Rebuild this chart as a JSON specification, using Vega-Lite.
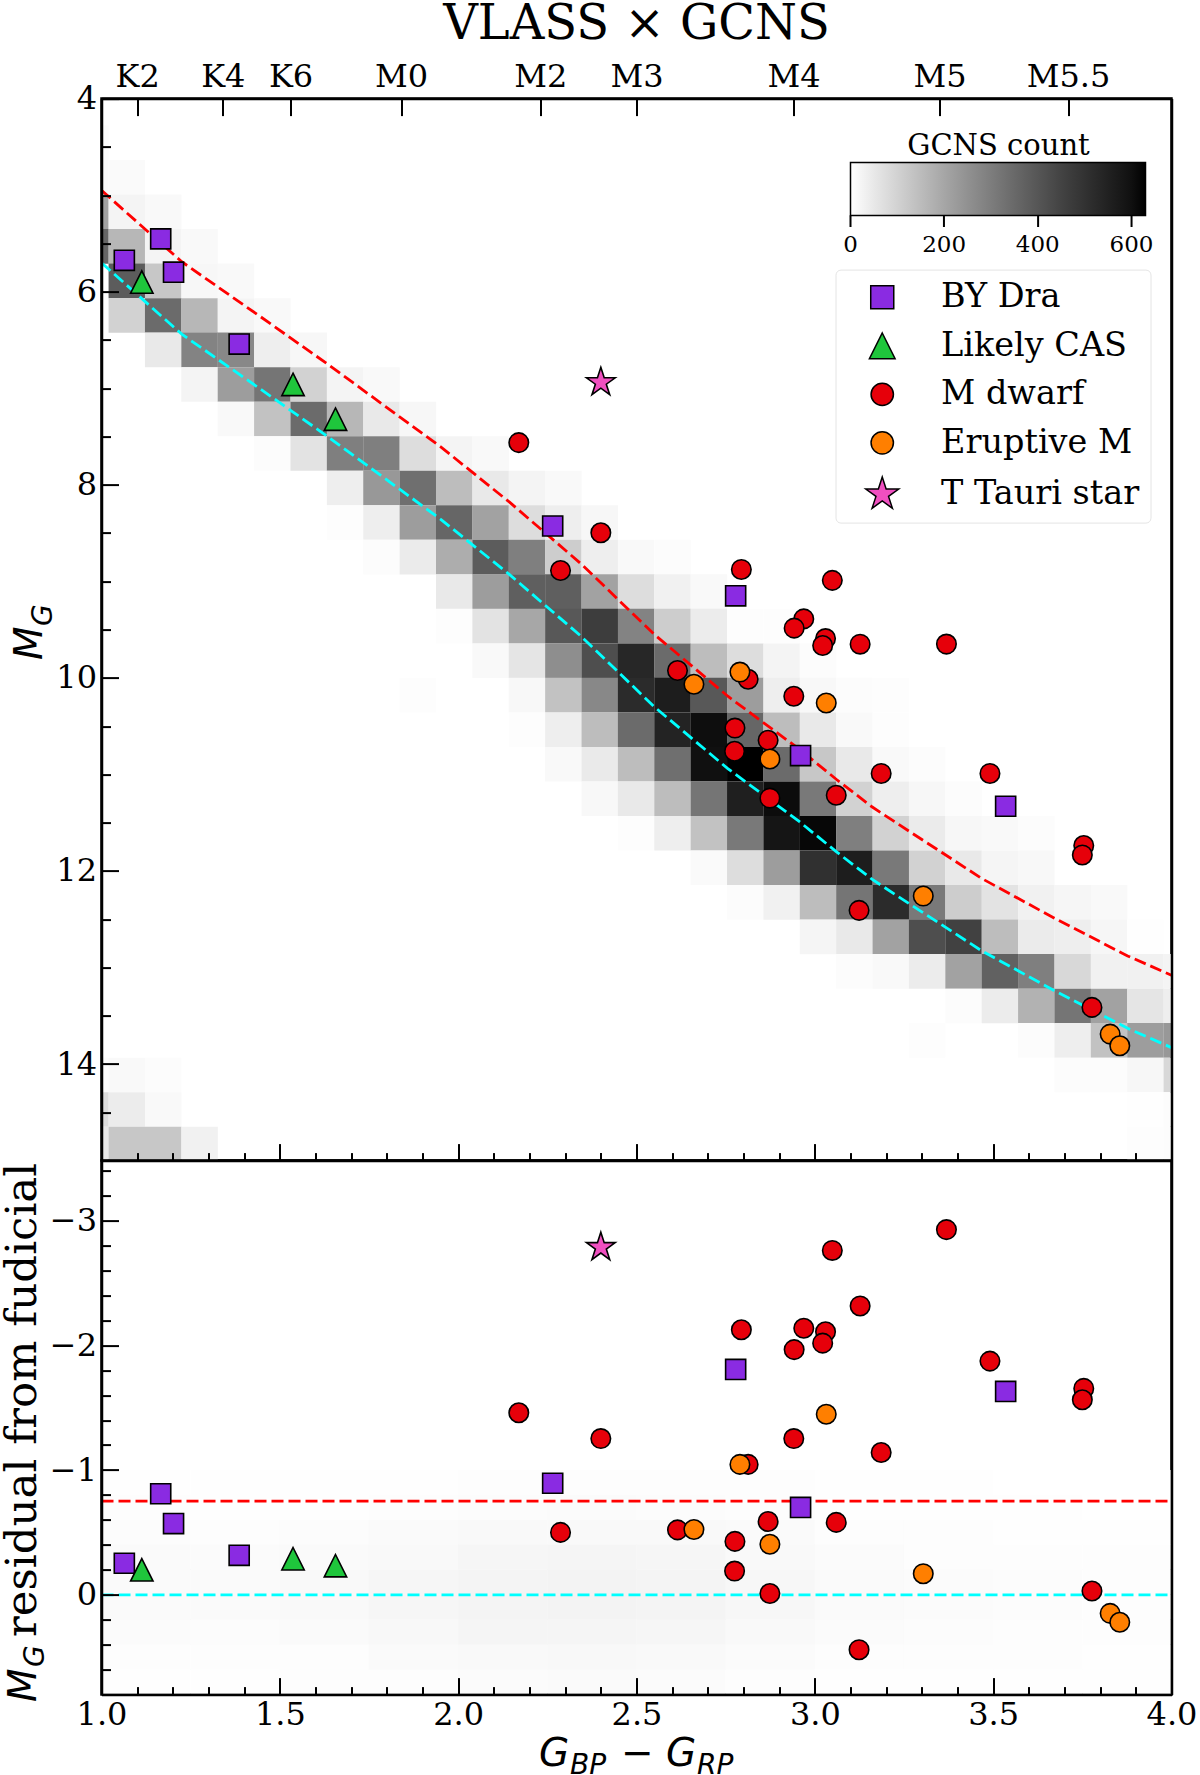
{
"$schema":"https://vega.github.io/schema/vega-lite/v6.json",
"background":"white",
"padding":{"left":-1.5,"top":-0.4,"right":0,"bottom":0},
"spacing":0,
"bounds":"flush",
"datasets":{
"heat":[
{"x":0.969,"y":4.458,"n":7},
{"x":0.969,"y":4.815,"n":12},{"x":1.071,"y":4.815,"n":10},
{"x":0.969,"y":5.173,"n":210},{"x":1.071,"y":5.173,"n":25},{"x":1.173,"y":5.173,"n":12},
{"x":0.969,"y":5.531,"n":358},{"x":1.071,"y":5.531,"n":161},{"x":1.173,"y":5.531,"n":25},{"x":1.275,"y":5.531,"n":12},
{"x":1.071,"y":5.888,"n":383},{"x":1.173,"y":5.888,"n":124},{"x":1.275,"y":5.888,"n":17},{"x":1.377,"y":5.888,"n":12},
{"x":1.071,"y":6.246,"n":99},{"x":1.173,"y":6.246,"n":346},{"x":1.275,"y":6.246,"n":161},{"x":1.377,"y":6.246,"n":25},{"x":1.479,"y":6.246,"n":12},
{"x":1.173,"y":6.603,"n":49},{"x":1.275,"y":6.603,"n":284},{"x":1.377,"y":6.603,"n":272},{"x":1.479,"y":6.603,"n":37},{"x":1.581,"y":6.603,"n":17},
{"x":1.275,"y":6.961,"n":25},{"x":1.377,"y":6.961,"n":222},{"x":1.479,"y":6.961,"n":321},{"x":1.581,"y":6.961,"n":99},{"x":1.683,"y":6.961,"n":25},{"x":1.785,"y":6.961,"n":12},
{"x":1.377,"y":7.319,"n":12},{"x":1.479,"y":7.319,"n":136},{"x":1.581,"y":7.319,"n":346},{"x":1.683,"y":7.319,"n":161},{"x":1.785,"y":7.319,"n":49},{"x":1.887,"y":7.319,"n":17},
{"x":1.479,"y":7.676,"n":7},{"x":1.581,"y":7.676,"n":62},{"x":1.683,"y":7.676,"n":296},{"x":1.785,"y":7.676,"n":296},{"x":1.887,"y":7.676,"n":74},{"x":1.989,"y":7.676,"n":25},{"x":2.091,"y":7.676,"n":12},
{"x":1.683,"y":8.034,"n":37},{"x":1.785,"y":8.034,"n":235},{"x":1.887,"y":8.034,"n":334},{"x":1.989,"y":8.034,"n":148},{"x":2.091,"y":8.034,"n":49},{"x":2.193,"y":8.034,"n":25},{"x":2.295,"y":8.034,"n":12},
{"x":1.683,"y":8.391,"n":5},{"x":1.785,"y":8.391,"n":37},{"x":1.887,"y":8.391,"n":222},{"x":1.989,"y":8.391,"n":358},{"x":2.091,"y":8.391,"n":210},{"x":2.193,"y":8.391,"n":74},{"x":2.295,"y":8.391,"n":37},{"x":2.397,"y":8.391,"n":17},
{"x":1.785,"y":8.749,"n":7},{"x":1.887,"y":8.749,"n":44},{"x":1.989,"y":8.749,"n":185},{"x":2.091,"y":8.749,"n":383},{"x":2.193,"y":8.749,"n":296},{"x":2.295,"y":8.749,"n":111},{"x":2.397,"y":8.749,"n":37},{"x":2.499,"y":8.749,"n":12},{"x":2.601,"y":8.749,"n":7},
{"x":1.989,"y":9.107,"n":49},{"x":2.091,"y":9.107,"n":222},{"x":2.193,"y":9.107,"n":375},{"x":2.295,"y":9.107,"n":375},{"x":2.397,"y":9.107,"n":210},{"x":2.499,"y":9.107,"n":74},{"x":2.601,"y":9.107,"n":30},{"x":2.703,"y":9.107,"n":12},
{"x":1.989,"y":9.464,"n":5},{"x":2.091,"y":9.464,"n":62},{"x":2.193,"y":9.464,"n":198},{"x":2.295,"y":9.464,"n":395},{"x":2.397,"y":9.464,"n":469},{"x":2.499,"y":9.464,"n":284},{"x":2.601,"y":9.464,"n":111},{"x":2.703,"y":9.464,"n":42},{"x":2.805,"y":9.464,"n":5},{"x":2.907,"y":9.464,"n":5},
{"x":2.091,"y":9.822,"n":12},{"x":2.193,"y":9.822,"n":57},{"x":2.295,"y":9.822,"n":259},{"x":2.397,"y":9.822,"n":420},{"x":2.499,"y":9.822,"n":531},{"x":2.601,"y":9.822,"n":346},{"x":2.703,"y":9.822,"n":148},{"x":2.805,"y":9.822,"n":74},{"x":2.907,"y":9.822,"n":25},{"x":3.009,"y":9.822,"n":7},
{"x":1.887,"y":10.179,"n":5},{"x":2.193,"y":10.179,"n":15},{"x":2.295,"y":10.179,"n":136},{"x":2.397,"y":10.179,"n":272},{"x":2.499,"y":10.179,"n":519},{"x":2.601,"y":10.179,"n":561},{"x":2.703,"y":10.179,"n":395},{"x":2.805,"y":10.179,"n":222},{"x":2.907,"y":10.179,"n":37},{"x":3.009,"y":10.179,"n":15},{"x":3.111,"y":10.179,"n":7},{"x":3.213,"y":10.179,"n":5},
{"x":2.193,"y":10.537,"n":5},{"x":2.295,"y":10.537,"n":37},{"x":2.397,"y":10.537,"n":148},{"x":2.499,"y":10.537,"n":346},{"x":2.601,"y":10.537,"n":544},{"x":2.703,"y":10.537,"n":605},{"x":2.805,"y":10.537,"n":358},{"x":2.907,"y":10.537,"n":148},{"x":3.009,"y":10.537,"n":49},{"x":3.111,"y":10.537,"n":12},{"x":3.213,"y":10.537,"n":5},
{"x":2.295,"y":10.895,"n":12},{"x":2.397,"y":10.895,"n":47},{"x":2.499,"y":10.895,"n":148},{"x":2.601,"y":10.895,"n":334},{"x":2.703,"y":10.895,"n":600},{"x":2.805,"y":10.895,"n":630},{"x":2.907,"y":10.895,"n":346},{"x":3.009,"y":10.895,"n":124},{"x":3.111,"y":10.895,"n":49},{"x":3.213,"y":10.895,"n":12},{"x":3.315,"y":10.895,"n":7},
{"x":2.397,"y":11.252,"n":15},{"x":2.499,"y":11.252,"n":49},{"x":2.601,"y":11.252,"n":148},{"x":2.703,"y":11.252,"n":321},{"x":2.805,"y":11.252,"n":556},{"x":2.907,"y":11.252,"n":610},{"x":3.009,"y":11.252,"n":309},{"x":3.111,"y":11.252,"n":99},{"x":3.213,"y":11.252,"n":37},{"x":3.315,"y":11.252,"n":17},{"x":3.417,"y":11.252,"n":7},
{"x":2.499,"y":11.61,"n":5},{"x":2.601,"y":11.61,"n":37},{"x":2.703,"y":11.61,"n":136},{"x":2.805,"y":11.61,"n":309},{"x":2.907,"y":11.61,"n":586},{"x":3.009,"y":11.61,"n":618},{"x":3.111,"y":11.61,"n":296},{"x":3.213,"y":11.61,"n":99},{"x":3.315,"y":11.61,"n":44},{"x":3.417,"y":11.61,"n":17},{"x":3.519,"y":11.61,"n":12},{"x":3.621,"y":11.61,"n":7},
{"x":2.703,"y":11.967,"n":10},{"x":2.805,"y":11.967,"n":74},{"x":2.907,"y":11.967,"n":222},{"x":3.009,"y":11.967,"n":506},{"x":3.111,"y":11.967,"n":561},{"x":3.213,"y":11.967,"n":309},{"x":3.315,"y":11.967,"n":99},{"x":3.417,"y":11.967,"n":49},{"x":3.519,"y":11.967,"n":22},{"x":3.621,"y":11.967,"n":15},
{"x":2.805,"y":12.325,"n":7},{"x":2.907,"y":12.325,"n":30},{"x":3.009,"y":12.325,"n":148},{"x":3.111,"y":12.325,"n":321},{"x":3.213,"y":12.325,"n":519},{"x":3.315,"y":12.325,"n":309},{"x":3.417,"y":12.325,"n":111},{"x":3.519,"y":12.325,"n":62},{"x":3.621,"y":12.325,"n":30},{"x":3.723,"y":12.325,"n":20},{"x":3.825,"y":12.325,"n":12},
{"x":3.009,"y":12.683,"n":22},{"x":3.111,"y":12.683,"n":49},{"x":3.213,"y":12.683,"n":210},{"x":3.315,"y":12.683,"n":420},{"x":3.417,"y":12.683,"n":457},{"x":3.519,"y":12.683,"n":148},{"x":3.621,"y":12.683,"n":44},{"x":3.723,"y":12.683,"n":37},{"x":3.825,"y":12.683,"n":20},{"x":3.927,"y":12.683,"n":2},
{"x":3.111,"y":13.04,"n":7},{"x":3.213,"y":13.04,"n":12},{"x":3.315,"y":13.04,"n":42},{"x":3.417,"y":13.04,"n":210},{"x":3.519,"y":13.04,"n":371},{"x":3.621,"y":13.04,"n":296},{"x":3.723,"y":13.04,"n":86},{"x":3.825,"y":13.04,"n":30},{"x":3.927,"y":13.04,"n":30},{"x":4.029,"y":13.04,"n":25},
{"x":3.417,"y":13.398,"n":7},{"x":3.519,"y":13.398,"n":42},{"x":3.621,"y":13.398,"n":173},{"x":3.723,"y":13.398,"n":321},{"x":3.825,"y":13.398,"n":210},{"x":3.927,"y":13.398,"n":57},{"x":4.029,"y":13.398,"n":37},
{"x":3.315,"y":13.755,"n":5},{"x":3.621,"y":13.755,"n":7},{"x":3.723,"y":13.755,"n":37},{"x":3.825,"y":13.755,"n":136},{"x":3.927,"y":13.755,"n":222},{"x":4.029,"y":13.755,"n":235},
{"x":0.969,"y":14.113,"n":7},{"x":1.071,"y":14.113,"n":12},{"x":1.173,"y":14.113,"n":7},{"x":3.723,"y":14.113,"n":7},{"x":3.825,"y":14.113,"n":7},{"x":3.927,"y":14.113,"n":17},{"x":4.029,"y":14.113,"n":86},
{"x":0.969,"y":14.471,"n":74},{"x":1.071,"y":14.471,"n":42},{"x":1.173,"y":14.471,"n":12},{"x":3.927,"y":14.471,"n":2},{"x":4.029,"y":14.471,"n":7},
{"x":0.969,"y":14.828,"n":49},{"x":1.071,"y":14.828,"n":124},{"x":1.173,"y":14.828,"n":124},{"x":1.275,"y":14.828,"n":30},{"x":3.927,"y":14.828,"n":5},{"x":4.029,"y":14.828,"n":7}
],
"density":[
{"x":1.125,"y":-0.9,"n":2},{"x":1.375,"y":-0.9,"n":2},{"x":1.625,"y":-0.9,"n":2},{"x":1.875,"y":-0.9,"n":3},{"x":2.125,"y":-0.9,"n":4},{"x":2.375,"y":-0.9,"n":5},{"x":2.625,"y":-0.9,"n":5},{"x":2.875,"y":-0.9,"n":4},{"x":3.125,"y":-0.9,"n":2},{"x":3.375,"y":-0.9,"n":2},{"x":3.625,"y":-0.9,"n":1},{"x":3.875,"y":-0.9,"n":1},
{"x":1.125,"y":-0.7,"n":4},{"x":1.375,"y":-0.7,"n":3},{"x":1.625,"y":-0.7,"n":3},{"x":1.875,"y":-0.7,"n":6},{"x":2.125,"y":-0.7,"n":9},{"x":2.375,"y":-0.7,"n":10},{"x":2.625,"y":-0.7,"n":9},{"x":2.875,"y":-0.7,"n":7},{"x":3.125,"y":-0.7,"n":3},{"x":3.375,"y":-0.7,"n":2},{"x":3.625,"y":-0.7,"n":2},{"x":3.875,"y":-0.7,"n":1},
{"x":1.125,"y":-0.5,"n":8},{"x":1.375,"y":-0.5,"n":7},{"x":1.625,"y":-0.5,"n":8},{"x":1.875,"y":-0.5,"n":12},{"x":2.125,"y":-0.5,"n":15},{"x":2.375,"y":-0.5,"n":18},{"x":2.625,"y":-0.5,"n":17},{"x":2.875,"y":-0.5,"n":12},{"x":3.125,"y":-0.5,"n":7},{"x":3.375,"y":-0.5,"n":4},{"x":3.625,"y":-0.5,"n":3},{"x":3.875,"y":-0.5,"n":2},
{"x":1.125,"y":-0.3,"n":12},{"x":1.375,"y":-0.3,"n":10},{"x":1.625,"y":-0.3,"n":12},{"x":1.875,"y":-0.3,"n":18},{"x":2.125,"y":-0.3,"n":24},{"x":2.375,"y":-0.3,"n":27},{"x":2.625,"y":-0.3,"n":25},{"x":2.875,"y":-0.3,"n":18},{"x":3.125,"y":-0.3,"n":10},{"x":3.375,"y":-0.3,"n":7},{"x":3.625,"y":-0.3,"n":5},{"x":3.875,"y":-0.3,"n":4},
{"x":1.125,"y":-0.1,"n":14},{"x":1.375,"y":-0.1,"n":12},{"x":1.625,"y":-0.1,"n":15},{"x":1.875,"y":-0.1,"n":24},{"x":2.125,"y":-0.1,"n":30},{"x":2.375,"y":-0.1,"n":33},{"x":2.625,"y":-0.1,"n":30},{"x":2.875,"y":-0.1,"n":22},{"x":3.125,"y":-0.1,"n":14},{"x":3.375,"y":-0.1,"n":10},{"x":3.625,"y":-0.1,"n":8},{"x":3.875,"y":-0.1,"n":6},
{"x":1.125,"y":0.1,"n":14},{"x":1.375,"y":0.1,"n":12},{"x":1.625,"y":0.1,"n":15},{"x":1.875,"y":0.1,"n":24},{"x":2.125,"y":0.1,"n":30},{"x":2.375,"y":0.1,"n":33},{"x":2.625,"y":0.1,"n":30},{"x":2.875,"y":0.1,"n":22},{"x":3.125,"y":0.1,"n":14},{"x":3.375,"y":0.1,"n":10},{"x":3.625,"y":0.1,"n":9},{"x":3.875,"y":0.1,"n":7},
{"x":1.125,"y":0.3,"n":10},{"x":1.375,"y":0.3,"n":9},{"x":1.625,"y":0.3,"n":12},{"x":1.875,"y":0.3,"n":20},{"x":2.125,"y":0.3,"n":26},{"x":2.375,"y":0.3,"n":28},{"x":2.625,"y":0.3,"n":25},{"x":2.875,"y":0.3,"n":18},{"x":3.125,"y":0.3,"n":11},{"x":3.375,"y":0.3,"n":8},{"x":3.625,"y":0.3,"n":7},{"x":3.875,"y":0.3,"n":5},
{"x":1.125,"y":0.5,"n":6},{"x":1.375,"y":0.5,"n":5},{"x":1.625,"y":0.5,"n":7},{"x":1.875,"y":0.5,"n":12},{"x":2.125,"y":0.5,"n":17},{"x":2.375,"y":0.5,"n":19},{"x":2.625,"y":0.5,"n":16},{"x":2.875,"y":0.5,"n":11},{"x":3.125,"y":0.5,"n":6},{"x":3.375,"y":0.5,"n":5},{"x":3.625,"y":0.5,"n":4},{"x":3.875,"y":0.5,"n":3},
{"x":1.125,"y":0.7,"n":3},{"x":1.375,"y":0.7,"n":2},{"x":1.625,"y":0.7,"n":4},{"x":1.875,"y":0.7,"n":7},{"x":2.125,"y":0.7,"n":10},{"x":2.375,"y":0.7,"n":12},{"x":2.625,"y":0.7,"n":10},{"x":2.875,"y":0.7,"n":6},{"x":3.125,"y":0.7,"n":3},{"x":3.375,"y":0.7,"n":2},{"x":3.625,"y":0.7,"n":2},{"x":3.875,"y":0.7,"n":2}
],
"fiducial":[
{"x":1.0,"mg":5.70,"upper":4.95},{"x":1.225,"mg":6.44,"upper":5.69},{"x":1.45,"mg":7.02,"upper":6.27},{"x":1.632,"mg":7.495,"upper":6.745},{"x":1.952,"mg":8.36,"upper":7.61},{"x":2.144,"mg":8.93,"upper":8.18},{"x":2.345,"mg":9.57,"upper":8.82},{"x":2.55,"mg":10.30,"upper":9.55},{"x":2.756,"mg":10.94,"upper":10.19},{"x":2.957,"mg":11.49,"upper":10.74},{"x":3.06,"mg":11.80,"upper":11.05},{"x":3.16,"mg":12.085,"upper":11.335},{"x":3.265,"mg":12.34,"upper":11.59},{"x":3.469,"mg":12.83,"upper":12.08},{"x":3.672,"mg":13.24,"upper":12.49},{"x":3.877,"mg":13.63,"upper":12.88},{"x":4.0,"mg":13.83,"upper":13.08}
],
"levels":[{"x":1.0,"zero":0,"limit":-0.75},{"x":4.0,"zero":0,"limit":-0.75}],
"stars":[
{"type":"M dwarf","x":3.369,"mg":9.65,"resid":-2.927},
{"type":"M dwarf","x":3.049,"mg":8.99,"resid":-2.76},
{"type":"M dwarf","x":3.127,"mg":9.651,"resid":-2.315},
{"type":"M dwarf","x":2.794,"mg":8.877,"resid":-2.124},
{"type":"M dwarf","x":2.969,"mg":9.389,"resid":-2.136},
{"type":"M dwarf","x":3.03,"mg":9.593,"resid":-2.108},
{"type":"M dwarf","x":3.022,"mg":9.665,"resid":-2.017},
{"type":"M dwarf","x":2.942,"mg":9.485,"resid":-1.965},
{"type":"M dwarf","x":3.491,"mg":10.99,"resid":-1.873},
{"type":"M dwarf","x":3.754,"mg":11.737,"resid":-1.654},
{"type":"M dwarf","x":3.75,"mg":11.834,"resid":-1.563},
{"type":"M dwarf","x":2.941,"mg":10.19,"resid":-1.252},
{"type":"M dwarf","x":3.186,"mg":10.99,"resid":-1.14},
{"type":"M dwarf","x":2.813,"mg":10.014,"resid":-1.045},
{"type":"M dwarf","x":2.869,"mg":10.646,"resid":-0.587},
{"type":"M dwarf","x":3.06,"mg":11.216,"resid":-0.58},
{"type":"M dwarf","x":2.615,"mg":9.924,"resid":-0.52},
{"type":"M dwarf","x":2.776,"mg":10.52,"resid":-0.428},
{"type":"M dwarf","x":2.775,"mg":10.76,"resid":-0.19},
{"type":"M dwarf","x":2.874,"mg":11.246,"resid":-0.01},
{"type":"M dwarf","x":3.777,"mg":13.413,"resid":-0.03},
{"type":"M dwarf","x":3.124,"mg":12.408,"resid":0.44},
{"type":"M dwarf","x":2.17,"mg":7.563,"resid":-1.459},
{"type":"M dwarf","x":2.287,"mg":8.888,"resid":-0.5},
{"type":"M dwarf","x":2.4,"mg":8.497,"resid":-1.252},
{"type":"Eruptive M","x":2.79,"mg":9.94,"resid":-1.045},
{"type":"Eruptive M","x":3.032,"mg":10.26,"resid":-1.447},
{"type":"Eruptive M","x":2.661,"mg":10.066,"resid":-0.523},
{"type":"Eruptive M","x":2.874,"mg":10.84,"resid":-0.405},
{"type":"Eruptive M","x":3.304,"mg":12.26,"resid":-0.169},
{"type":"Eruptive M","x":3.828,"mg":13.69,"resid":0.149},
{"type":"Eruptive M","x":3.855,"mg":13.81,"resid":0.22},
{"type":"BY Dra","x":2.778,"mg":9.15,"resid":-1.806},
{"type":"BY Dra","x":3.535,"mg":11.33,"resid":-1.63},
{"type":"BY Dra","x":2.96,"mg":10.805,"resid":-0.7},
{"type":"BY Dra","x":1.064,"mg":5.675,"resid":-0.253},
{"type":"BY Dra","x":1.166,"mg":5.453,"resid":-0.81},
{"type":"BY Dra","x":1.202,"mg":5.798,"resid":-0.571},
{"type":"BY Dra","x":1.386,"mg":6.543,"resid":-0.316},
{"type":"BY Dra","x":2.265,"mg":8.427,"resid":-0.894},
{"type":"Likely CAS","x":1.113,"mg":5.9,"resid":-0.2},
{"type":"Likely CAS","x":1.537,"mg":6.96,"resid":-0.289},
{"type":"Likely CAS","x":1.656,"mg":7.32,"resid":-0.233},
{"type":"T Tauri star","x":2.4,"mg":6.94,"resid":-2.785}
],
"cbar_ticks":[{"x":3.1,"y":5.21,"y2":5.33},{"x":3.362,"y":5.21,"y2":5.33},{"x":3.626,"y":5.21,"y2":5.33},{"x":3.888,"y":5.21,"y2":5.33}]
},
"vconcat":[
{
"width":1070,"height":1062,
"title":{"text":"VLASS × GCNS","font":"DejaVu Serif","fontSize":48,"fontWeight":"normal","color":"black","offset":11.4},
"layer":[
{
"data":{"name":"heat"},
"mark":{"type":"rect","width":36.5,"height":34.6,"clip":true},
"encoding":{
"x":{"field":"x","type":"quantitative","scale":{"domain":[1,4],"nice":false,"zero":false},
"axis":{"orient":"bottom","values":[1,1.5,2,2.5,3,3.5,4],"labels":false,"tickSize":-17,"title":null,"zindex":1,"domain":true,"domainWidth":2.5,"domainColor":"black"}},
"y":{"field":"y","type":"quantitative","scale":{"domain":[4,15],"reverse":true,"nice":false,"zero":false},
"axis":{"orient":"left","values":[4,6,8,10,12,14],"format":"d","tickSize":-17,"labelPadding":22,"zindex":1,"domain":true,"domainWidth":2.5,"domainColor":"black","title":"M","titleFont":"DejaVu Sans","titleFontStyle":"oblique","titleFontWeight":"normal","titleFontSize":39,"titleAngle":270,"titleAlign":"left","titleBaseline":"alphabetic","titleX":-60,"titleY":561}},
"color":{"field":"n","type":"quantitative","scale":{"domain":[0,630],"range":["#ffffff","#000000"]},
"legend":{"orient":"none","legendX":749,"legendY":33,"direction":"horizontal","title":"GCNS count","titleFont":"DejaVu Serif","titleFontSize":29,"titleFontWeight":"normal","titleColor":"black","titleLimit":400,"titleAnchor":"middle","titleOrient":"top","titlePadding":2,"gradientLength":295,"gradientThickness":53,"gradientStrokeColor":"black","gradientStrokeWidth":1.5,"values":[0,200,400,600],"labelFont":"DejaVu Serif","labelFontSize":23,"labelColor":"black","labelOffset":18,"labelOverlap":false,"encode":{"labels":{"update":{"align":{"value":"center"}}}}}}
}
},
{
"data":{"name":"fiducial"},
"mark":{"type":"line","color":"#ff0000","strokeWidth":2.8,"strokeDash":[12,5],"clip":true},
"encoding":{
"x":{"field":"x","type":"quantitative","axis":{"orient":"bottom","values":[1.1,1.2,1.3,1.4,1.6,1.7,1.8,1.9,2.1,2.2,2.3,2.4,2.6,2.7,2.8,2.9,3.1,3.2,3.3,3.4,3.6,3.7,3.8,3.9],"labels":false,"tickSize":-8,"title":null,"zindex":1}},
"y":{"field":"upper","type":"quantitative","axis":{"orient":"left","values":[4.5,5,5.5,6.5,7,7.5,8.5,9,9.5,10.5,11,11.5,12.5,13,13.5,14.5],"labels":false,"tickSize":-9,"zindex":1,"title":"G","titleFont":"DejaVu Sans","titleFontStyle":"oblique","titleFontWeight":"normal","titleFontSize":28,"titleAngle":270,"titleAlign":"left","titleBaseline":"alphabetic","titleX":-50,"titleY":527}}
}
},
{
"data":{"name":"fiducial"},
"mark":{"type":"line","color":"#00ffff","strokeWidth":2.8,"strokeDash":[12,5],"clip":true},
"encoding":{
"x":{"field":"x","type":"quantitative","axis":{"orient":"top","values":[1.1,1.34,1.53,1.84,2.23,2.5,2.94,3.35,3.71],"labelExpr":"datum.value==1.1?'K2':datum.value==1.34?'K4':datum.value==1.53?'K6':datum.value==1.84?'M0':datum.value==2.23?'M2':datum.value==2.5?'M3':datum.value==2.94?'M4':datum.value==3.35?'M5':'M5.5'","tickSize":-17,"labelPadding":22,"title":null,"zindex":1,"domain":true,"domainWidth":2.5,"domainColor":"black"}},
"y":{"field":"mg","type":"quantitative","axis":{"orient":"right","values":[],"labels":false,"ticks":false,"title":null,"zindex":1,"domain":true,"domainWidth":2.5,"domainColor":"black"}}
}
},
{
"data":{"name":"stars"},
"mark":{"type":"point","filled":true,"size":380,"stroke":"black","strokeWidth":1.6,"opacity":1},
"encoding":{
"x":{"field":"x","type":"quantitative","axis":null},
"y":{"field":"mg","type":"quantitative","axis":null},
"fill":{"field":"type","type":"nominal","sort":null,"scale":{"domain":["BY Dra","Likely CAS","M dwarf","Eruptive M","T Tauri star"],"range":["#8a2be2","#1fc63c","#e6000a","#ff7f00","#f04fc0"]},
"legend":{"orient":"none","legendX":734,"legendY":171,"title":null,"fillColor":"white","strokeColor":"#e4e4e4","cornerRadius":5,"padding":11,"symbolOffset":19,"labelOffset":42,"rowPadding":13.5,"labelFont":"DejaVu Serif","labelFontSize":33.5,"labelColor":"black","labelLimit":400,"symbolSize":500,"encode":{"symbols":{"update":{"size":{"signal":"datum.value==='M dwarf'||datum.value==='Eruptive M'?576:(datum.value==='BY Dra'?424:(datum.value==='Likely CAS'?370:340))"},"stroke":{"value":"black"},"strokeWidth":{"value":1.6}}}}}},
"shape":{"field":"type","type":"nominal","sort":null,"scale":{"domain":["BY Dra","Likely CAS","M dwarf","Eruptive M","T Tauri star"],"range":["M-1.03,-1.03L1.03,-1.03L1.03,1.03L-1.03,1.03Z","M0,-1.15L1.15,1.15L-1.15,1.15Z","circle","circle","M0,-1.55L.347,-.478L1.474,-.479L.562,.182L.911,1.254L0,.591L-.911,1.254L-.562,.182L-1.474,-.479L-.347,-.478Z"]},
"legend":{"orient":"none","legendX":734,"legendY":171,"title":null,"fillColor":"white","strokeColor":"#e4e4e4","cornerRadius":5,"padding":11,"symbolOffset":19,"labelOffset":42,"rowPadding":13.5,"labelFont":"DejaVu Serif","labelFontSize":33.5,"labelColor":"black","labelLimit":400,"symbolSize":500,"encode":{"symbols":{"update":{"size":{"signal":"datum.value==='M dwarf'||datum.value==='Eruptive M'?576:(datum.value==='BY Dra'?424:(datum.value==='Likely CAS'?370:340))"},"stroke":{"value":"black"},"strokeWidth":{"value":1.6}}}}}}
}
},
{
"data":{"name":"cbar_ticks"},
"mark":{"type":"rule","color":"black","strokeWidth":2},
"encoding":{
"x":{"field":"x","type":"quantitative","axis":null},
"y":{"field":"y","type":"quantitative","axis":null},
"y2":{"field":"y2"}
}
}
],
"resolve":{"axis":{"x":"independent","y":"independent"}}
},
{
"width":1070,"height":534,
"layer":[
{
"data":{"name":"density"},
"mark":{"type":"rect","width":89.3,"height":25,"clip":true,"opacity":0.8},
"encoding":{
"x":{"field":"x","type":"quantitative","scale":{"domain":[1,4],"nice":false,"zero":false},
"axis":{"orient":"bottom","values":[1,1.5,2,2.5,3,3.5,4],"format":".1f","tickSize":-17,"labelPadding":22,"zindex":1,"domain":true,"domainWidth":2.5,"domainColor":"black","title":"G","titleFont":"DejaVu Sans","titleFontStyle":"oblique","titleFontWeight":"normal","titleFontSize":39,"titleAlign":"left","titleBaseline":"alphabetic","titleX":437,"titleY":71}},
"y":{"field":"y","type":"quantitative","scale":{"domain":[-3.48,0.8],"reverse":true,"nice":false,"zero":false},
"axis":{"orient":"left","values":[-3,-2,-1,0],"format":"d","tickSize":-17,"labelPadding":22,"zindex":1,"domain":true,"domainWidth":2.5,"domainColor":"black","title":"residual from fudicial","titleFont":"DejaVu Serif","titleFontWeight":"normal","titleFontSize":43.5,"titleAngle":270,"titleAlign":"left","titleBaseline":"alphabetic","titleX":-66,"titleY":476}},
"color":{"field":"n","type":"quantitative","scale":{"domain":[0,630],"range":["#ffffff","#000000"]},"legend":null}
}
},
{
"data":{"name":"levels"},
"mark":{"type":"line","color":"#ff0000","strokeWidth":2.8,"strokeDash":[12,5],"clip":true},
"encoding":{
"x":{"field":"x","type":"quantitative","axis":{"orient":"bottom","values":[1.1,1.2,1.3,1.4,1.6,1.7,1.8,1.9,2.1,2.2,2.3,2.4,2.6,2.7,2.8,2.9,3.1,3.2,3.3,3.4,3.6,3.7,3.8,3.9],"labels":false,"tickSize":-8,"zindex":1,"title":"BP","titleFont":"DejaVu Sans","titleFontStyle":"oblique","titleFontWeight":"normal","titleFontSize":28,"titleAlign":"left","titleBaseline":"alphabetic","titleX":468,"titleY":79}},
"y":{"field":"limit","type":"quantitative","axis":{"orient":"left","values":[-3.4,-3.2,-2.8,-2.6,-2.4,-2.2,-1.8,-1.6,-1.4,-1.2,-0.8,-0.6,-0.4,-0.2,0.2,0.4,0.6],"labels":false,"tickSize":-9,"zindex":1,"title":"M","titleFont":"DejaVu Sans","titleFontStyle":"oblique","titleFontWeight":"normal","titleFontSize":39,"titleAngle":270,"titleAlign":"left","titleBaseline":"alphabetic","titleX":-66,"titleY":541}}
}
},
{
"data":{"name":"levels"},
"mark":{"type":"line","color":"#00ffff","strokeWidth":2.8,"strokeDash":[12,5],"clip":true},
"encoding":{
"x":{"field":"x","type":"quantitative","axis":{"orient":"bottom","values":[],"labels":false,"ticks":false,"title":"− G","titleFont":"DejaVu Sans","titleFontStyle":"oblique","titleFontWeight":"normal","titleFontSize":39,"titleAlign":"left","titleBaseline":"alphabetic","titleX":519,"titleY":71}},
"y":{"field":"zero","type":"quantitative","axis":{"orient":"left","values":[],"labels":false,"ticks":false,"title":"G","titleFont":"DejaVu Sans","titleFontStyle":"oblique","titleFontWeight":"normal","titleFontSize":28,"titleAngle":270,"titleAlign":"left","titleBaseline":"alphabetic","titleX":-58,"titleY":506}}
}
},
{
"data":{"name":"stars"},
"mark":{"type":"point","filled":true,"size":380,"stroke":"black","strokeWidth":1.6,"opacity":1},
"encoding":{
"x":{"field":"x","type":"quantitative","axis":{"orient":"bottom","values":[],"labels":false,"ticks":false,"title":"RP","titleFont":"DejaVu Sans","titleFontStyle":"oblique","titleFontWeight":"normal","titleFontSize":28,"titleAlign":"left","titleBaseline":"alphabetic","titleX":595,"titleY":79}},
"y":{"field":"resid","type":"quantitative","axis":{"orient":"right","values":[],"labels":false,"ticks":false,"title":null,"zindex":1,"domain":true,"domainWidth":2.5,"domainColor":"black"}},
"fill":{"field":"type","type":"nominal","sort":null,"scale":{"domain":["BY Dra","Likely CAS","M dwarf","Eruptive M","T Tauri star"],"range":["#8a2be2","#1fc63c","#e6000a","#ff7f00","#f04fc0"]},"legend":null},
"shape":{"field":"type","type":"nominal","sort":null,"scale":{"domain":["BY Dra","Likely CAS","M dwarf","Eruptive M","T Tauri star"],"range":["M-1.03,-1.03L1.03,-1.03L1.03,1.03L-1.03,1.03Z","M0,-1.15L1.15,1.15L-1.15,1.15Z","circle","circle","M0,-1.55L.347,-.478L1.474,-.479L.562,.182L.911,1.254L0,.591L-.911,1.254L-.562,.182L-1.474,-.479L-.347,-.478Z"]},"legend":null}
}
}
],
"resolve":{"axis":{"x":"independent","y":"independent"}}
}
],
"config":{
"view":{"stroke":"black","strokeWidth":2.5},
"axis":{"domain":false,"grid":false,"tickColor":"black","tickWidth":2,"labelFont":"DejaVu Serif","labelFontSize":32,"labelColor":"black","titleColor":"black","labelOverlap":false,"labelBound":false,"labelFlush":false}
}
}
